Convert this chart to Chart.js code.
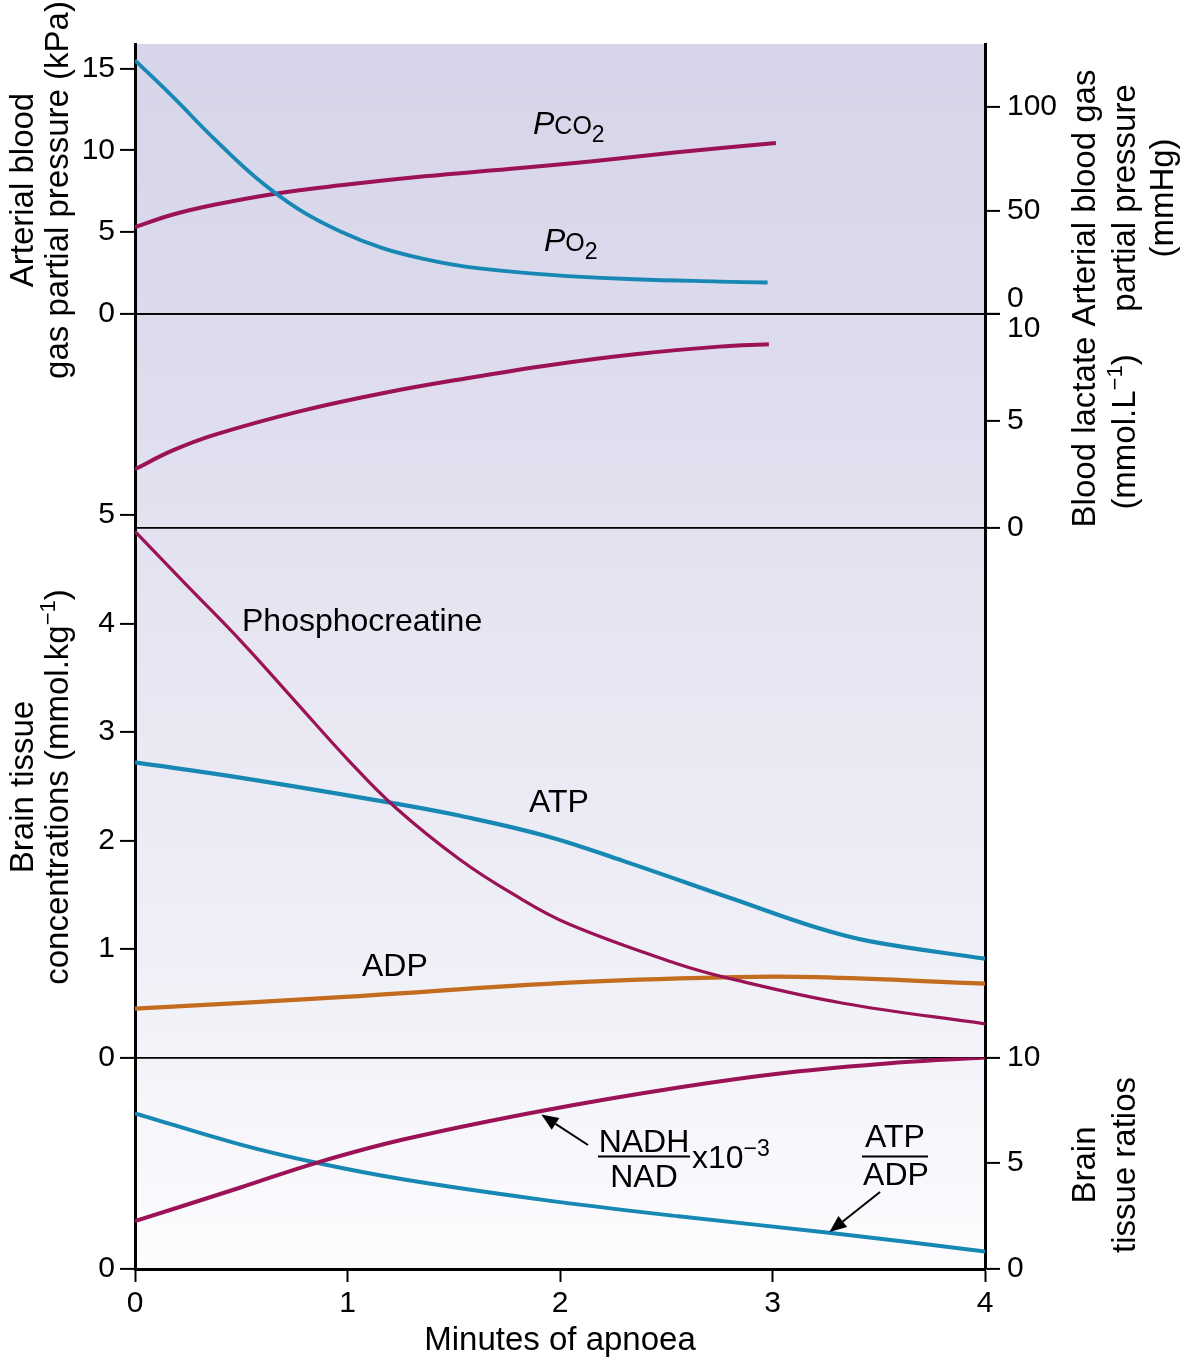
<!DOCTYPE html>
<html>
<head>
<meta charset="utf-8">
<script src="https://cdn.jsdelivr.net/npm/chart.js@4.4.0/dist/chart.umd.min.js"></script>
<style>
  html, body { margin: 0; padding: 0; background: #fff; }
</style>
</head>
<body>
<canvas id="apnoeaChart" width="1184" height="1364"></canvas>
<script>
const FONT = '"Liberation Sans", Arial, Helvetica, sans-serif';

// x axis
const minuteTicks = [0, 1, 2, 3, 4];

// Arterial blood gases (kPa)
const po2Minutes = [0, 0.175, 0.373, 0.571, 0.769, 0.967, 1.165, 1.363, 1.561, 1.957, 2.353, 2.749, 2.977];
const po2Kpa = [15.5, 13.31, 10.7, 8.31, 6.41, 5.04, 4.02, 3.35, 2.88, 2.39, 2.12, 1.98, 1.92];
const pco2Minutes = [0, 0.175, 0.373, 0.66, 0.967, 1.363, 1.759, 2.155, 2.551, 3.016];
const pco2Kpa = [5.3, 6.06, 6.67, 7.35, 7.86, 8.41, 8.86, 9.33, 9.88, 10.45];

// Blood lactate (mmol/L)
const lactateMinutes = [0, 0.175, 0.373, 0.769, 1.165, 1.561, 1.957, 2.353, 2.749, 2.983];
const lactateMmol = [2.73, 3.6, 4.34, 5.43, 6.29, 6.99, 7.61, 8.11, 8.47, 8.58];

// Brain tissue concentrations (mmol/kg)
const pcrMinutes = [0, 0.235, 0.493, 0.751, 1.009, 1.228, 1.525, 1.784, 2.041, 2.558, 2.816, 3.332, 4];
const pcrValues = [4.85, 4.37, 3.85, 3.29, 2.73, 2.3, 1.83, 1.5, 1.23, 0.86, 0.72, 0.5, 0.31];
const atpMinutes = [0, 0.493, 1.228, 1.525, 1.938, 2.3, 2.816, 3.203, 3.461, 4];
const atpValues = [2.72, 2.58, 2.34, 2.23, 2.04, 1.81, 1.46, 1.2, 1.07, 0.91];
const adpMinutes = [0, 1.009, 2.041, 2.816, 3.203, 4];
const adpValues = [0.45, 0.56, 0.69, 0.74, 0.74, 0.68];

// Brain tissue ratios
const nadhMinutes = [0, 0.493, 0.854, 1.267, 1.912, 2.558, 3.074, 3.59, 4];
const nadhRatio = [2.26, 3.84, 5.02, 6.13, 7.47, 8.58, 9.29, 9.76, 10.0];
const atpAdpMinutes = [0, 0.493, 0.854, 1.267, 1.912, 2.558, 3.255, 4];
const atpAdpRatio = [7.36, 5.89, 5.02, 4.23, 3.28, 2.49, 1.73, 0.83];

// tick labels
const kpaTicks = [0, 5, 10, 15];
const mmHgTicks = [0, 50, 100];
const lactateTicks = [0, 5, 10];
const brainTicks = [0, 1, 2, 3, 4, 5];
const ratioTicks = [0, 5, 10];
const ratioLeftTicks = [0];

const BLUE = '#1787b3';
const MAGENTA = '#9c1256';
const ORANGE = '#c36b1f';

function toPoints(xs, ys) {
    return xs.map((x, i) => ({ x: x, y: ys[i] }));
}

function line(xs, ys, color, width, axis) {
    return {
        data: toPoints(xs, ys),
        borderColor: color,
        borderWidth: width,
        pointRadius: 0,
        fill: false,
        tension: 0.4,
        borderCapStyle: 'butt',
        xAxisID: 'x',
        yAxisID: axis
    };
}

function fixedTicks(list) {
    return function (scale) { scale.ticks = list.map(v => ({ value: v })); };
}

const zeroLine = ctx => (ctx.tick && ctx.tick.value === 0) ? '#000' : 'rgba(0,0,0,0)';

function yAxis(side, weight, stackWeight, min, max, ticks) {
    return {
        type: 'linear',
        position: side,
        stack: 'panels',
        stackWeight: stackWeight,
        weight: weight,
        min: min,
        max: max,
        afterBuildTicks: ticks ? fixedTicks(ticks) : undefined,
        afterFit: s => { s.width = side === 'left' ? 135 : 199; },
        border: { color: '#000', width: 3 },
        grid: {
            display: !!ticks,
            color: zeroLine,
            tickColor: '#000',
            lineWidth: 1.8,
            tickWidth: 2,
            tickLength: 15
        },
        ticks: {
            display: !!ticks,
            autoSkip: false,
            color: '#000',
            padding: side === 'left' ? 5 : 7,
            font: { family: FONT, size: 30 }
        }
    };
}

const mmHgAxis = yAxis('right', 1, 270, 0, 130.5, mmHgTicks);
mmHgAxis.ticks.font.lineHeight = 1.0;
mmHgAxis.ticks.callback = v => v === 0 ? ['0', ''] : String(v);

const lactateAxis = yAxis('right', 2, 213.7, 0, 10, lactateTicks);
lactateAxis.ticks.font.lineHeight = 1.0;
lactateAxis.ticks.callback = v => v === 10 ? ['', '10'] : String(v);

const panelBackground = {
    id: 'panelBackground',
    beforeDraw(chart) {
        const { ctx, chartArea: a } = chart;
        const g = ctx.createLinearGradient(0, a.top, 0, a.bottom);
        g.addColorStop(0, '#d6d5e9');
        g.addColorStop(0.22, '#dcdbed');
        g.addColorStop(0.4, '#e3e2f0');
        g.addColorStop(0.83, '#f3f3f9');
        g.addColorStop(1, '#fdfdff');
        ctx.save();
        ctx.fillStyle = g;
        ctx.fillRect(a.left, a.top, a.right - a.left, a.bottom - a.top);
        ctx.restore();
    }
};

function fontOf(p) {
    return (p.italic ? 'italic ' : '') + (p.size || 32) + 'px ' + FONT;
}

function drawParts(ctx, parts, x, y, align) {
    let total = 0;
    parts.forEach(p => { ctx.font = fontOf(p); p.w = ctx.measureText(p.text).width; total += p.w; });
    let cx = align === 'center' ? x - total / 2 : x;
    parts.forEach(p => {
        ctx.font = fontOf(p);
        ctx.fillText(p.text, cx, y - (p.rise || 0));
        cx += p.w;
    });
}

function verticalTitle(ctx, parts, baselineX, centerY) {
    ctx.save();
    ctx.translate(baselineX, centerY);
    ctx.rotate(-Math.PI / 2);
    drawParts(ctx, parts, 0, 0, 'center');
    ctx.restore();
}

function arrow(ctx, x0, y0, x1, y1) {
    const ang = Math.atan2(y1 - y0, x1 - x0);
    const len = 17, half = 7;
    const bx = x1 - len * Math.cos(ang), by = y1 - len * Math.sin(ang);
    ctx.beginPath();
    ctx.moveTo(x0, y0);
    ctx.lineTo(bx, by);
    ctx.lineWidth = 2;
    ctx.stroke();
    ctx.beginPath();
    ctx.moveTo(x1, y1);
    ctx.lineTo(bx + half * Math.sin(ang), by - half * Math.cos(ang));
    ctx.lineTo(bx - half * Math.sin(ang), by + half * Math.cos(ang));
    ctx.closePath();
    ctx.fill();
}

const T = 33; // title size
const labelsPlugin = {
    id: 'labelsPlugin',
    afterDraw(chart) {
        const ctx = chart.ctx;
        const s = chart.scales;
        ctx.save();
        ctx.fillStyle = '#000';
        ctx.strokeStyle = '#000';
        ctx.textBaseline = 'alphabetic';
        ctx.textAlign = 'left';

        // axis titles
        verticalTitle(ctx, [{ text: 'Arterial blood', size: T }], 33, 190);
        verticalTitle(ctx, [{ text: 'gas partial pressure (kPa)', size: T }], 68, 190);
        verticalTitle(ctx, [{ text: 'Brain tissue', size: T }], 33, 787);
        verticalTitle(ctx, [{ text: 'concentrations (mmol.kg', size: T }, { text: '\u22121', size: 22, rise: 13 }, { text: ')', size: T }], 68, 787);

        verticalTitle(ctx, [{ text: 'Arterial blood gas', size: T }], 1095, 198);
        verticalTitle(ctx, [{ text: 'partial pressure', size: T }], 1135, 198);
        verticalTitle(ctx, [{ text: '(mmHg)', size: T }], 1173, 198);
        verticalTitle(ctx, [{ text: 'Blood lactate', size: T }], 1095, 432);
        verticalTitle(ctx, [{ text: '(mmol.L', size: T }, { text: '\u22121', size: 22, rise: 13 }, { text: ')', size: T }], 1135, 432);
        verticalTitle(ctx, [{ text: 'Brain', size: T }], 1095, 1165);
        verticalTitle(ctx, [{ text: 'tissue ratios', size: T }], 1135, 1165);

        // curve labels
        drawParts(ctx, [{ text: 'P', italic: true }, { text: 'CO', size: 25 }, { text: '2', size: 23, rise: -8 }], 533, 134, 'left');
        drawParts(ctx, [{ text: 'P', italic: true }, { text: 'O', size: 25 }, { text: '2', size: 23, rise: -8 }], 544, 251, 'left');
        drawParts(ctx, [{ text: 'Phosphocreatine' }], 242, 631, 'left');
        drawParts(ctx, [{ text: 'ATP' }], 529, 812, 'left');
        drawParts(ctx, [{ text: 'ADP' }], 362, 976, 'left');

        // NADH / NAD x10^-3
        drawParts(ctx, [{ text: 'NADH' }], 644, 1152, 'center');
        drawParts(ctx, [{ text: 'NAD' }], 644, 1187, 'center');
        ctx.fillRect(598, 1155.5, 92, 2);
        drawParts(ctx, [{ text: 'x10' }, { text: '\u22123', size: 23, rise: 12 }], 692, 1168, 'left');

        // ATP / ADP
        drawParts(ctx, [{ text: 'ATP' }], 895, 1147, 'center');
        drawParts(ctx, [{ text: 'ADP' }], 896, 1185, 'center');
        ctx.fillRect(862, 1155.5, 66, 2);

        // arrows to the ratio curves
        arrow(ctx, 588, 1145, s.x.getPixelForValue(1.912), s.yRat.getPixelForValue(7.3));
        arrow(ctx, 880, 1192, s.x.getPixelForValue(3.268), s.yRat.getPixelForValue(1.75));
        ctx.restore();
    }
};

const ctx = document.getElementById('apnoeaChart').getContext('2d');

const apnoeaChart = new Chart(ctx, {
    type: 'line',
    data: {
        datasets: [
            line(po2Minutes, po2Kpa, BLUE, 3.8, 'yGas'),
            line(pco2Minutes, pco2Kpa, MAGENTA, 4, 'yGas'),
            line(lactateMinutes, lactateMmol, MAGENTA, 4, 'yLac'),
            line(pcrMinutes, pcrValues, MAGENTA, 3.2, 'yBrain'),
            line(atpMinutes, atpValues, BLUE, 4.2, 'yBrain'),
            line(adpMinutes, adpValues, ORANGE, 4.2, 'yBrain'),
            line(nadhMinutes, nadhRatio, MAGENTA, 4, 'yRat'),
            line(atpAdpMinutes, atpAdpRatio, BLUE, 4, 'yRat')
        ]
    },
    options: {
        responsive: false,
        animation: false,
        events: [],
        layout: { padding: { top: 44, left: 0, right: 0, bottom: 0 } },
        plugins: {
            legend: { display: false },
            tooltip: { enabled: false }
        },
        scales: {
            x: {
                type: 'linear',
                position: 'bottom',
                min: 0,
                max: 4,
                afterBuildTicks: fixedTicks(minuteTicks),
                afterFit: s => { s.height = 95; },
                border: { color: '#000', width: 3 },
                grid: { drawOnChartArea: false, color: '#000', tickLength: 13, tickWidth: 2 },
                ticks: { color: '#000', padding: 4, font: { family: FONT, size: 30 } },
                title: {
                    display: true,
                    text: 'Minutes of apnoea',
                    color: '#000',
                    font: { family: FONT, size: 33 },
                    padding: { top: 0, bottom: 3 }
                }
            },
            // left side, top to bottom
            yGas: yAxis('left', 4, 270, 0, 16.5, kpaTicks),
            yLacL: yAxis('left', 3, 213.7, 0, 10, null),
            yBrain: yAxis('left', 2, 530, 0, 4.885, brainTicks),
            yRatL: yAxis('left', 1, 211.6, 0, 10, ratioLeftTicks),
            // right side, top to bottom
            yGasR: mmHgAxis,
            yLac: lactateAxis,
            yBrainR: yAxis('right', 3, 530, 0, 1, null),
            yRat: yAxis('right', 4, 211.6, 0, 10, ratioTicks)
        }
    },
    plugins: [panelBackground, labelsPlugin]
});
</script>
</body>
</html>
